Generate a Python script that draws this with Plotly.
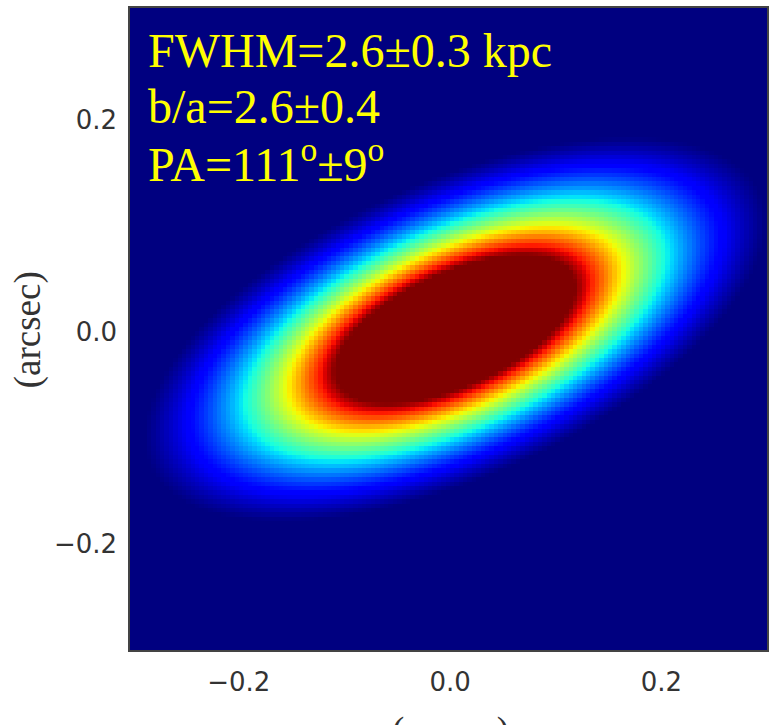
import numpy as np
import plotly.graph_objects as go

# ---- model parameters (2D elliptical Gaussian model) ----
center_x = 0.005        # arcsec
center_y = 0.002        # arcsec
sigma_major = 0.136     # arcsec
axis_ratio = 2.27       # major / minor
pa_deg = 114.0          # position angle, degrees (north through east, east to the left)
peak_value = 1.0
color_min = 0.067       # colour-scale limits (core saturated)
color_max = 0.667
n_pix = 150             # model image size in pixels
image_half_extent = 0.31

tick_values = [-0.2, 0.0, 0.2]
tick_labels = ["\u22120.2", "0.0", "0.2"]
label_lines = ["FWHM=2.6\u00b10.3 kpc", "b/a=2.6\u00b10.4", "PA=111<sup>o</sup>\u00b19<sup>o</sup>"]
axis_title = "(arcsec)"

# ---- build the model image ----
xs = np.linspace(-image_half_extent, image_half_extent, n_pix)
ys = np.linspace(-image_half_extent, image_half_extent, n_pix)
X, Y = np.meshgrid(xs, ys)
pa = np.deg2rad(pa_deg)
ux, uy = -np.sin(pa), np.cos(pa)           # major-axis direction
dx, dy = X - center_x, Y - center_y
u = dx * ux + dy * uy
v = -dx * uy + dy * ux
sigma_minor = sigma_major / axis_ratio
Z = peak_value * np.exp(-0.5 * ((u / sigma_major) ** 2 + (v / sigma_minor) ** 2))

# ---- matplotlib 'jet' colour scale ----
def _interp(pts, t):
    xp = [p[0] for p in pts]
    fp = [p[1] for p in pts]
    return float(np.interp(t, xp, fp))

red = [(0, 0), (0.35, 0), (0.66, 1), (0.89, 1), (1, 0.5)]
green = [(0, 0), (0.125, 0), (0.375, 1), (0.64, 1), (0.91, 0), (1, 0)]
blue = [(0, 0.5), (0.11, 1), (0.34, 1), (0.65, 0), (1, 0)]
jet = []
for t in np.linspace(0, 1, 65):
    r, g, b = (_interp(c, t) for c in (red, green, blue))
    jet.append([float(t), f"rgb({round(r*255)},{round(g*255)},{round(b*255)})"])

fig = go.Figure(
    go.Heatmap(
        x=xs, y=ys, z=Z, colorscale=jet, zmin=color_min, zmax=color_max,
        showscale=False, hoverinfo="skip",
    )
)

W, H = 769, 725
ml, mr, mt, mb = 130, 0, 8, 75
pw, ph = W - ml - mr, H - mt - mb

tick_font = dict(family="DejaVu Sans", size=26, color="#333333")
fig.update_xaxes(
    range=[-0.303, 0.3], tickvals=tick_values, ticktext=tick_labels,
    showgrid=False, zeroline=False, showline=True, mirror=True,
    linecolor="#444444", linewidth=1.5, ticks="outside", ticklen=8,
    tickcolor="rgba(0,0,0,0)", tickfont=tick_font,
)
fig.update_yaxes(
    range=[-0.3, 0.305], tickvals=tick_values, ticktext=tick_labels,
    showgrid=False, zeroline=False, showline=True, mirror=True,
    linecolor="#444444", linewidth=1.5, ticks="outside", ticklen=6,
    tickcolor="rgba(0,0,0,0)", tickfont=tick_font,
)

line_centers_px = [50, 106, 161]
for txt, cy in zip(label_lines, line_centers_px):
    fig.add_annotation(
        xref="paper", yref="paper", x=0, y=1 - (cy - mt) / ph,
        xanchor="left", yanchor="middle", xshift=16, showarrow=False,
        text=txt, font=dict(family="Liberation Serif", size=48, color="#ffff00"),
    )

title_font = dict(family="Liberation Serif", size=37, color="#333333")
fig.add_annotation(
    xref="paper", yref="paper", x=-(ml - 28) / pw, y=1 - (330 - mt) / ph,
    xanchor="center", yanchor="middle", textangle=-90, showarrow=False,
    text=axis_title, font=title_font,
)
fig.add_annotation(
    xref="paper", yref="paper", x=(452 - ml) / pw, y=-(708 - (mt + ph)) / ph,
    xanchor="center", yanchor="top", showarrow=False,
    text=axis_title, font=title_font,
)

fig.update_layout(
    width=W, height=H, margin=dict(l=ml, r=mr, t=mt, b=mb, pad=0),
    paper_bgcolor="white", plot_bgcolor="#000080", showlegend=False,
)

fig.write_html("out.html")
